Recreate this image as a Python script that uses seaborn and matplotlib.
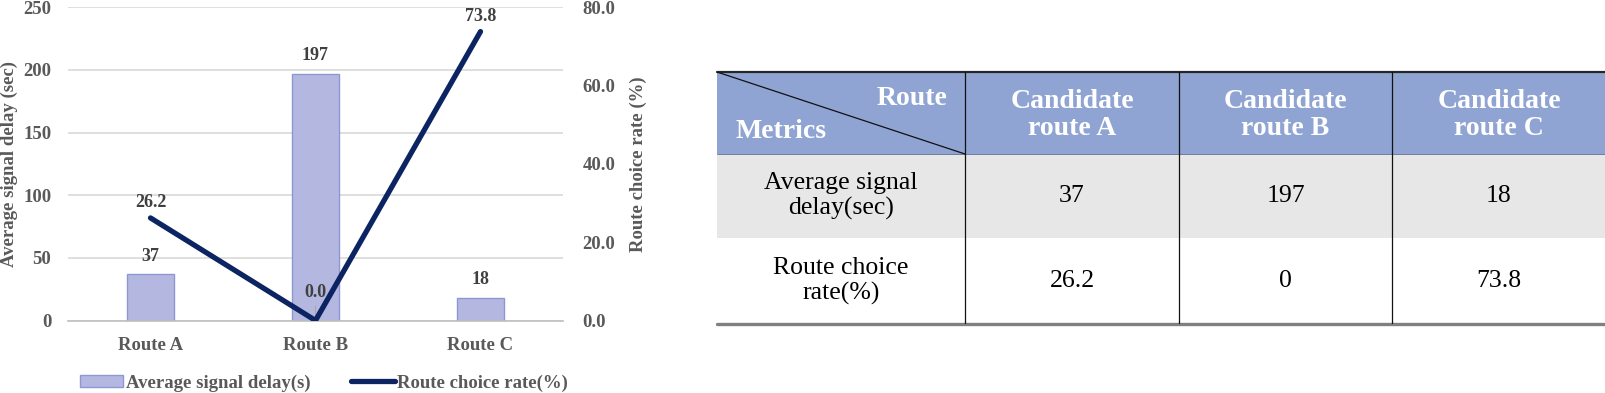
import numpy as np
import pandas as pd
import matplotlib
matplotlib.use("Agg")
import matplotlib.pyplot as plt
from matplotlib.patches import Rectangle, Patch
from matplotlib.lines import Line2D
import seaborn as sns

# ---------------- data ----------------
routes = ["Route A", "Route B", "Route C"]
signal_delay = [37, 197, 18]
choice_rate = [26.2, 0.0, 73.8]
delay_ticks = [0, 50, 100, 150, 200, 250]
rate_ticks = [0.0, 20.0, 40.0, 60.0, 80.0]

table_cols = ["Candidate\nroute A", "Candidate\nroute B", "Candidate\nroute C"]
table_rows = ["Average signal\ndelay(sec)", "Route choice\nrate(%)"]
table_delay = ["37", "197", "18"]
table_rate = ["26.2", "0", "73.8"]

# ---------------- style ----------------
sns.set_theme(style="white")
plt.rcParams["font.family"] = ["Liberation Serif", "DejaVu Serif"]

W, H = 1606, 393
fig = plt.figure(figsize=(W / 100, H / 100), dpi=100)

BAR_FACE = "#B4B8E0"
BAR_EDGE = "#8E97D2"
LINE_C = "#0C2461"
TICK_C = "#595959"
LABEL_C = "#404040"
GRID_C = "#D9D9D9"

# chart axes (pixel layout)
ax_l, ax_r, ax_t, ax_b = 68, 563, 7.3, 320.5
ax_w = ax_r - ax_l
ax = fig.add_axes([ax_l / W, 1 - ax_b / H, ax_w / W, (ax_b - ax_t) / H])

df = pd.DataFrame({"route": routes, "delay": signal_delay, "rate": choice_rate,
                   "pos": np.arange(len(routes))})

sns.barplot(data=df, x="route", y="delay", ax=ax, color=BAR_FACE,
            edgecolor=BAR_EDGE, linewidth=1.0, width=0.28, saturation=1)
ax.set_ylim(0, 250)
ax.set_yticks(delay_ticks)
ax.set_xlim(-0.5, len(routes) - 0.5)
ax.yaxis.grid(True, color=GRID_C, linewidth=1.2)
ax.set_axisbelow(True)
for s in ["top", "right", "left"]:
    ax.spines[s].set_visible(False)
ax.spines["bottom"].set_color("#BFBFBF")
ax.spines["bottom"].set_linewidth(1.2)
ax.tick_params(axis="y", length=0, labelsize=13.5, labelcolor=TICK_C, pad=12)
ax.tick_params(axis="x", length=0, labelsize=13.5, labelcolor=TICK_C, pad=12)
for lab in ax.get_xticklabels() + ax.get_yticklabels():
    lab.set_fontweight("bold")
ax.set_xlabel("")
ax.set_ylabel("Average signal delay (sec)", fontsize=13.5, fontweight="bold",
              color=TICK_C)
ax.yaxis.set_label_coords((9 - ax_l) / ax_w, 0.5)
ax.yaxis.label.set_verticalalignment("center")

for i, v in enumerate(signal_delay):
    ax.annotate(f"{v}", (i, v), xytext=(0, 13), textcoords="offset points",
                ha="center", va="center", fontsize=13, fontweight="bold",
                color=LABEL_C)

ax2 = ax.twinx()
sns.lineplot(data=df, x="pos", y="rate", ax=ax2, color=LINE_C, linewidth=3.8,
             sort=False)
ax2.set_ylim(0, 80)
ax2.set_yticks(rate_ticks)
ax2.set_yticklabels([f"{t:.1f}" for t in rate_ticks])
ax2.set_xlim(-0.5, len(routes) - 0.5)
for s in ["top", "right", "left", "bottom"]:
    ax2.spines[s].set_visible(False)
ax2.tick_params(axis="y", length=0, labelsize=13.5, labelcolor=TICK_C, pad=14)
for lab in ax2.get_yticklabels():
    lab.set_fontweight("bold")
ax2.set_xlabel("")
ax2.set_ylabel("Route choice rate (%)", fontsize=13.5, fontweight="bold",
               color=TICK_C)
ax2.yaxis.set_label_coords((638 - ax_l) / ax_w, 0.5)
ax2.yaxis.label.set_verticalalignment("center")

for i, v in enumerate(choice_rate):
    if v == 0:
        ax2.annotate(f"{v:.1f}", (i, v), xytext=(0, 20), textcoords="offset points",
                     ha="center", va="center", fontsize=13, fontweight="bold",
                     color=LABEL_C,
                     arrowprops=dict(arrowstyle="-", color="#A6A6A6", lw=0.8,
                                     shrinkA=1, shrinkB=0), zorder=1)
    else:
        ax2.annotate(f"{v:.1f}", (i, v), xytext=(0, 11), textcoords="offset points",
                     ha="center", va="center", fontsize=13, fontweight="bold",
                     color=LABEL_C)

handles = [Patch(facecolor=BAR_FACE, edgecolor=BAR_EDGE, linewidth=1.0),
           Line2D([0], [0], color=LINE_C, linewidth=3.8)]
leg = fig.legend(handles, ["Average signal delay(s)", "Route choice rate(%)"],
                 loc="center", bbox_to_anchor=(324 / W, 1 - 383 / H), ncol=2,
                 frameon=False, handlelength=2.3, handleheight=0.55,
                 columnspacing=2.2, handletextpad=0.15,
                 prop={"size": 13.5, "weight": "bold"})
for t in leg.get_texts():
    t.set_color(TICK_C)

# ---------------- table ----------------
x_edges = [717, 965, 1179, 1392, 1606]
y_edges = [72, 154, 238, 324]
tax = fig.add_axes([x_edges[0] / W, 1 - y_edges[-1] / H,
                    (x_edges[-1] - x_edges[0]) / W, (y_edges[-1] - y_edges[0]) / H])
tax.set_xlim(x_edges[0], x_edges[-1])
tax.set_ylim(y_edges[-1], y_edges[0])
tax.axis("off")

HEAD = "#8FA4D2"
ROW1 = "#E7E7E7"
tax.add_patch(Rectangle((x_edges[0], y_edges[0]), x_edges[-1] - x_edges[0],
                        y_edges[1] - y_edges[0], facecolor=HEAD, edgecolor="none"))
tax.add_patch(Rectangle((x_edges[0], y_edges[1]), x_edges[-1] - x_edges[0],
                        y_edges[2] - y_edges[1], facecolor=ROW1, edgecolor="none"))

# borders
tax.plot([x_edges[0], x_edges[-1]], [y_edges[0], y_edges[0]], color="#262626",
         linewidth=1.6, clip_on=False)
tax.plot([x_edges[0], x_edges[-1]], [y_edges[1], y_edges[1]], color="#5F6B8A",
         linewidth=0.6, clip_on=False)
tax.plot([x_edges[0], x_edges[-1]], [y_edges[-1], y_edges[-1]], color="#808080",
         linewidth=2.4, clip_on=False)
for xe in x_edges[1:-1]:
    tax.plot([xe, xe], [y_edges[0], y_edges[-1]], color="#111111", linewidth=0.9)
tax.plot([x_edges[0], x_edges[1]], [y_edges[0], y_edges[1]], color="#111111",
         linewidth=0.9)

tax.text(x_edges[1] - 18, 98, "Route", ha="right", va="center", fontsize=20,
         fontweight="bold", color="white")
tax.text(x_edges[0] + 19, 131, "Metrics", ha="left", va="center", fontsize=20,
         fontweight="bold", color="white")

ymid = [(y_edges[i] + y_edges[i + 1]) / 2 for i in range(3)]
for j, c in enumerate(table_cols):
    xc = (x_edges[j + 1] + x_edges[j + 2]) / 2
    tax.text(xc, ymid[0] + 2, c, ha="center", va="center", fontsize=20,
             fontweight="bold", color="white", linespacing=1.15)
xc0 = (x_edges[0] + x_edges[1]) / 2
for i, (r, vals) in enumerate(zip(table_rows, [table_delay, table_rate])):
    tax.text(xc0, ymid[i + 1], r, ha="center", va="center", fontsize=18.5,
             color="black", linespacing=1.2)
    for j, v in enumerate(vals):
        xc = (x_edges[j + 1] + x_edges[j + 2]) / 2
        tax.text(xc, ymid[i + 1], v, ha="center", va="center", fontsize=18.5,
                 color="black")

fig.savefig("out.png", dpi=100)
